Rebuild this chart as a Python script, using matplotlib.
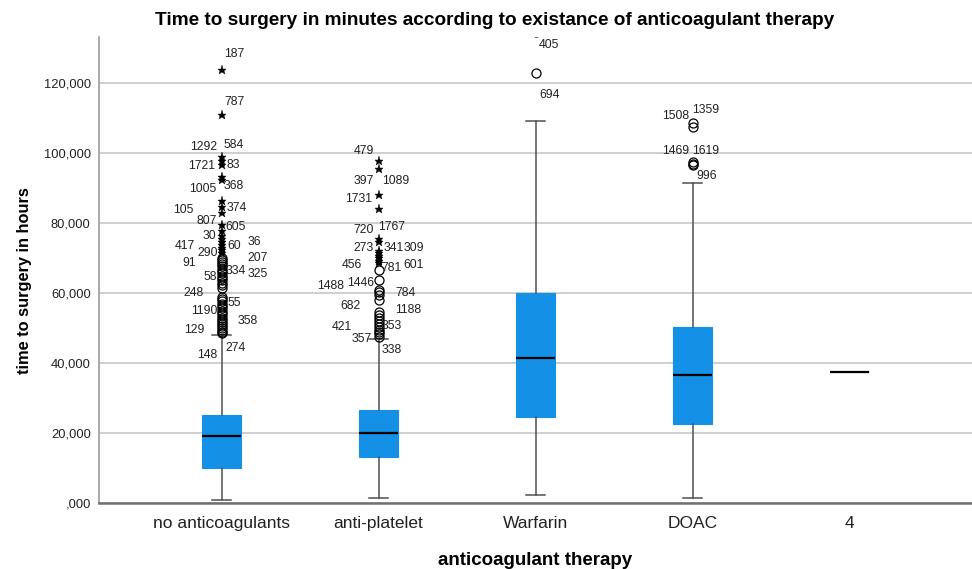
import matplotlib.pyplot as plt
from matplotlib.ticker import FuncFormatter

plt.rcParams['font.family'] = ['Liberation Sans', 'DejaVu Sans']

# groups and box statistics
groups = ['no anticoagulants', 'anti-platelet', 'Warfarin', 'DOAC', '4']
q1 = [10.0, 13.1, 24.7, 22.7, 37.6]
medians = [19.1, 20.0, 41.4, 36.5, 37.6]
q3 = [25.2, 26.7, 60.0, 50.4, 37.6]
whis_lo = [0.9, 1.4, 2.3, 1.5, 37.6]
whis_hi = [48.1, 46.9, 109.0, 91.4, 37.6]

# extreme outliers (stars)
extremes = [
    [123.6, 110.7, 98.9, 97.8, 96.7, 93.2, 92.4, 86.2, 84.7, 82.9, 79.5, 77.6,
     76.2, 75.4, 74.6, 73.8, 73.0, 72.3, 71.5],
    [97.6, 95.4, 88.1, 84.1, 75.4, 74.5, 72.0, 71.3, 70.6, 69.9, 69.2, 68.5],
    [],
    [],
    [],
]
# outliers (circles)
outliers = [
    [70.1, 69.5, 68.9, 68.3, 67.7, 67.0, 66.3, 65.6, 65.0, 64.3, 63.6, 62.8,
     62.2, 61.5, 59.0, 58.3, 57.6, 57.0, 56.3, 55.7, 55.0, 54.3, 53.7, 53.0,
     52.4, 51.8, 51.2, 50.6, 50.0, 49.5, 49.0, 48.6],
    [66.7, 63.6, 61.0, 60.2, 59.5, 57.9, 54.7, 53.8, 52.9, 52.0, 51.2, 50.4,
     49.6, 48.9, 48.2, 47.5],
    [134.5, 122.9],
    [108.6, 107.4, 97.3, 96.9, 96.6],
    [],
]

# case labels: (case id, label height, x offset in px, alignment)
case_labels = [
    [('187', 128.2, 3, 'left'), ('787', 114.6, 3, 'left'),
     ('1292', 101.7, -4, 'right'), ('584', 102.3, 2, 'left'),
     ('1721', 96.4, -6, 'right'), ('83', 96.6, 5, 'left'),
     ('1005', 89.8, -5, 'right'), ('368', 90.5, 2, 'left'),
     ('105', 83.8, -28, 'right'), ('374', 84.3, 5, 'left'),
     ('807', 80.7, -5, 'right'), ('605', 78.9, 4, 'left'),
     ('30', 76.2, -5, 'right'), ('36', 74.7, 26, 'left'),
     ('60', 73.3, 6, 'left'), ('417', 73.3, -27, 'right'),
     ('290', 71.4, -4, 'right'), ('207', 70.0, 26, 'left'),
     ('91', 68.7, -26, 'right'), ('334', 66.2, 4, 'left'),
     ('325', 65.4, 26, 'left'), ('58', 64.6, -5, 'right'),
     ('248', 60.0, -18, 'right'), ('55', 57.3, 6, 'left'),
     ('1190', 55.0, -4, 'right'), ('358', 51.9, 16, 'left'),
     ('129', 49.5, -17, 'right'), ('274', 44.3, 4, 'left'),
     ('148', 42.4, -4, 'right')],
    [('479', 100.5, -15, 'center'), ('397', 91.9, -5, 'right'),
     ('1089', 91.9, 4, 'left'), ('1731', 86.9, -6, 'right'),
     ('720', 77.9, -5, 'right'), ('1767', 79.0, 0, 'left'),
     ('273', 72.9, -5, 'right'), ('341', 72.9, 5, 'left'),
     ('309', 72.9, 25, 'left'), ('456', 68.1, -17, 'right'),
     ('781', 67.1, 3, 'left'), ('601', 68.1, 25, 'left'),
     ('1488', 61.9, -34, 'right'), ('1446', 62.9, -4, 'right'),
     ('784', 60.0, 17, 'left'), ('682', 56.4, -18, 'right'),
     ('1188', 55.2, 17, 'left'), ('421', 50.3, -27, 'right'),
     ('353', 50.7, 3, 'left'), ('357', 46.9, -7, 'right'),
     ('338', 43.8, 3, 'left')],
    [('405', 130.9, 3, 'left'), ('694', 116.4, 4, 'left')],
    [('1508', 110.5, -3, 'right'), ('1359', 112.2, 0, 'left'),
     ('1469', 100.5, -3, 'right'), ('1619', 100.5, 0, 'left'),
     ('996', 93.3, 4, 'left')],
    [],
]

box_color = '#1490E6'
line_color = '#505050'

fig = plt.figure(figsize=(9.72, 5.69), dpi=100)
ax = fig.add_axes([0.1019, 0.1155, 0.8981, 0.8189])

stats = []
for i, name in enumerate(groups):
    stats.append(dict(label=name, med=medians[i], q1=q1[i], q3=q3[i],
                      whislo=whis_lo[i], whishi=whis_hi[i], fliers=[]))

pos = list(range(len(groups)))
ax.bxp(stats, positions=pos, widths=0.248, capwidths=0.124, patch_artist=True,
       showfliers=False,
       boxprops=dict(facecolor=box_color, edgecolor=box_color, linewidth=0.8),
       medianprops=dict(color='black', linewidth=1.6),
       whiskerprops=dict(color=line_color, linewidth=1.1),
       capprops=dict(color=line_color, linewidth=1.1), zorder=3)

for i in pos:
    ax.plot([i] * len(outliers[i]), outliers[i], linestyle='none', marker='o',
            markersize=6.5, markerfacecolor='none', markeredgecolor='black',
            markeredgewidth=0.9, zorder=4)
    ax.plot([i] * len(extremes[i]), extremes[i], linestyle='none', marker='*',
            markersize=6.5, color='black', markeredgewidth=0.3, zorder=4)
    for cid, yl, dx, ha in case_labels[i]:
        ax.annotate(cid, xy=(i, yl), xytext=(dx * 0.72, 0),
                    textcoords='offset points', ha=ha, va='center',
                    fontsize=8.8, color='#222222', zorder=5)

ax.set_xlim(-0.78, 4.78)
ax.set_ylim(0, 133)
ax.set_yticks([0, 20, 40, 60, 80, 100, 120])


def fmt(v, p):
    # SPSS style: decimal comma, no leading zero
    s = f'{v:.3f}'.replace('.', ',')
    if s.startswith('0,'):
        s = s[1:]
    return s


ax.yaxis.set_major_formatter(FuncFormatter(fmt))
ax.set_xticks(pos)
ax.set_xticklabels(groups, fontsize=12.5, color='#222222')
ax.tick_params(axis='x', length=0, pad=9)
ax.tick_params(axis='y', length=0, pad=6, labelsize=9.3, labelcolor='#222222')

ax.grid(axis='y', color='#cfcfcf', linewidth=1.4, zorder=0)
ax.set_axisbelow(True)
for s in ['top', 'right']:
    ax.spines[s].set_visible(False)
ax.spines['left'].set_color('#9a9a9a')
ax.spines['left'].set_linewidth(1.2)
ax.spines['bottom'].set_color('#707070')
ax.spines['bottom'].set_linewidth(1.8)

ax.set_ylabel('time to surgery in hours', fontsize=11.8, fontweight='bold',
              va='center')
ax.yaxis.set_label_coords(-0.085, 0.479)
ax.set_xlabel('anticoagulant therapy', fontsize=13.5, fontweight='bold',
              va='center')
ax.xaxis.set_label_coords(0.4994, -0.122)
fig.text(0.509, 0.964, 'Time to surgery in minutes according to existance of anticoagulant therapy',
         ha='center', va='center', fontsize=13.7, fontweight='bold')

fig.savefig('out.png', dpi=100)
